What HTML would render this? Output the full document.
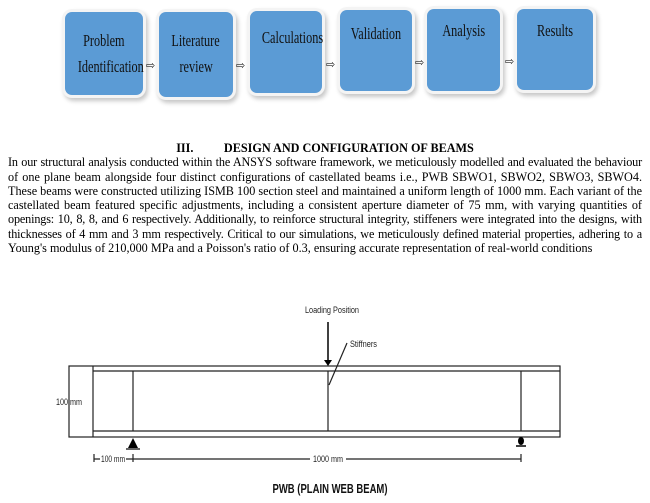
<!DOCTYPE html>
<html><head><meta charset="utf-8"><style>
body{margin:0;width:650px;height:503px;background:#fff;position:relative;overflow:hidden;font-family:"Liberation Serif",serif;}
.box{position:absolute;background:#5b9bd5;border-radius:7px;box-shadow:0 0 0 3px #f4f4f4,2px 3px 4px 3px #c8c8c8;color:#111;text-align:center;font-size:17px;line-height:26px;box-sizing:border-box;}
.box span{display:inline-block;transform:scaleX(0.72);white-space:nowrap;}
.arr{position:absolute;font-size:11px;color:#222;}
#txt{position:absolute;left:8px;top:141px;width:634px;font-size:12.2px;line-height:14.3px;color:#000;}
#txt .h{text-align:center;font-weight:bold;font-size:12.2px;}
#txt .l{display:block;text-align:justify;text-align-last:justify;white-space:nowrap;}
#txt .l.e{text-align-last:left;}
#txt .t{letter-spacing:-0.15px;}
</style></head><body>
<div class="box" style="left:65px;top:12px;width:78px;height:83px;padding-top:16px"><span>Problem</span><br><span>Identification</span></div>
<div class="box" style="left:159px;top:12px;width:74px;height:85px;padding-top:16px"><span>Literature</span><br><span>review</span></div>
<div class="box" style="left:250px;top:11px;width:72px;height:82px;padding-top:14px"><span>Calculations</span></div>
<div class="box" style="left:340px;top:10px;width:72px;height:81px;padding-top:11px"><span>Validation</span></div>
<div class="box" style="left:427px;top:9px;width:73px;height:82px;padding-top:9px"><span>Analysis</span></div>
<div class="box" style="left:517px;top:9px;width:76px;height:81px;padding-top:9px"><span>Results</span></div>
<div class="arr" style="left:146px;top:59px">⇨</div>
<div class="arr" style="left:236px;top:59px">⇨</div>
<div class="arr" style="left:326px;top:58px">⇨</div>
<div class="arr" style="left:415px;top:56px">⇨</div>
<div class="arr" style="left:505px;top:55px">⇨</div>
<div id="txt"><div class="h">III.&nbsp;&nbsp;&nbsp;&nbsp;&nbsp;&nbsp;&nbsp;&nbsp;&nbsp;&nbsp;DESIGN AND CONFIGURATION OF BEAMS</div>
<span class="l t">In our structural analysis conducted within the ANSYS software framework, we meticulously modelled and evaluated the behaviour</span>
<span class="l">of one plane beam alongside four distinct configurations of castellated beams i.e., PWB SBWO1, SBWO2, SBWO3, SBWO4.</span>
<span class="l">These beams were constructed utilizing ISMB 100 section steel and maintained a uniform length of 1000 mm. Each variant of the</span>
<span class="l">castellated beam featured specific adjustments, including a consistent aperture diameter of 75 mm, with varying quantities of</span>
<span class="l t">openings: 10, 8, 8, and 6 respectively. Additionally, to reinforce structural integrity, stiffeners were integrated into the designs, with</span>
<span class="l t">thicknesses of 4 mm and 3 mm respectively. Critical to our simulations, we meticulously defined material properties, adhering to a</span>
<span class="l e">Young's modulus of 210,000 MPa and a Poisson's ratio of 0.3, ensuring accurate representation of real-world conditions</span></div>
<svg width="650" height="503" style="position:absolute;left:0;top:0" font-family="Liberation Sans, sans-serif">
<g stroke="#222" stroke-width="1.2" fill="none">
<rect x="69" y="366" width="491" height="71"/>
<line x1="93" y1="366" x2="93" y2="437"/>
<line x1="93" y1="371" x2="560" y2="371"/>
<line x1="93" y1="431" x2="560" y2="431"/>
<line x1="133" y1="371" x2="133" y2="431"/>
<line x1="328" y1="371" x2="328" y2="431"/>
<line x1="521" y1="371" x2="521" y2="431"/>
<line x1="328" y1="322" x2="328" y2="362" stroke="#000" stroke-width="1.5"/>
<line x1="347" y1="343" x2="329" y2="385"/>
<line x1="94" y1="459" x2="521" y2="459"/>
<line x1="94" y1="454" x2="94" y2="462"/>
<line x1="133" y1="454" x2="133" y2="462"/>
<line x1="521" y1="454" x2="521" y2="462"/>
</g>
<polygon points="324,360 332,360 328,366" fill="#000"/>
<polygon points="133,438 128,448 138,448" fill="#000"/>
<line x1="126" y1="449" x2="140" y2="449" stroke="#000" stroke-width="1.2"/>
<ellipse cx="521" cy="441" rx="3" ry="4" fill="#000"/>
<line x1="516" y1="446" x2="526" y2="446" stroke="#000" stroke-width="1.5"/>
<rect x="100" y="454" width="26" height="10" fill="#fff"/>
<rect x="310" y="454" width="36" height="10" fill="#fff"/>
<g font-size="9" fill="#222">
<text x="332" y="313" text-anchor="middle" textLength="54" lengthAdjust="spacingAndGlyphs">Loading Position</text>
<text x="350" y="347" textLength="27" lengthAdjust="spacingAndGlyphs">Stiffners</text>
<text x="69" y="405" text-anchor="middle" textLength="26" lengthAdjust="spacingAndGlyphs">100 mm</text>
<text x="113" y="462" text-anchor="middle" textLength="24" lengthAdjust="spacingAndGlyphs">100 mm</text>
<text x="328" y="462" text-anchor="middle" textLength="30" lengthAdjust="spacingAndGlyphs">1000 mm</text>
</g>
<text x="330" y="493" text-anchor="middle" font-size="13" font-weight="bold" fill="#111" textLength="115" lengthAdjust="spacingAndGlyphs">PWB (PLAIN WEB BEAM)</text>
</svg>
</body></html>
